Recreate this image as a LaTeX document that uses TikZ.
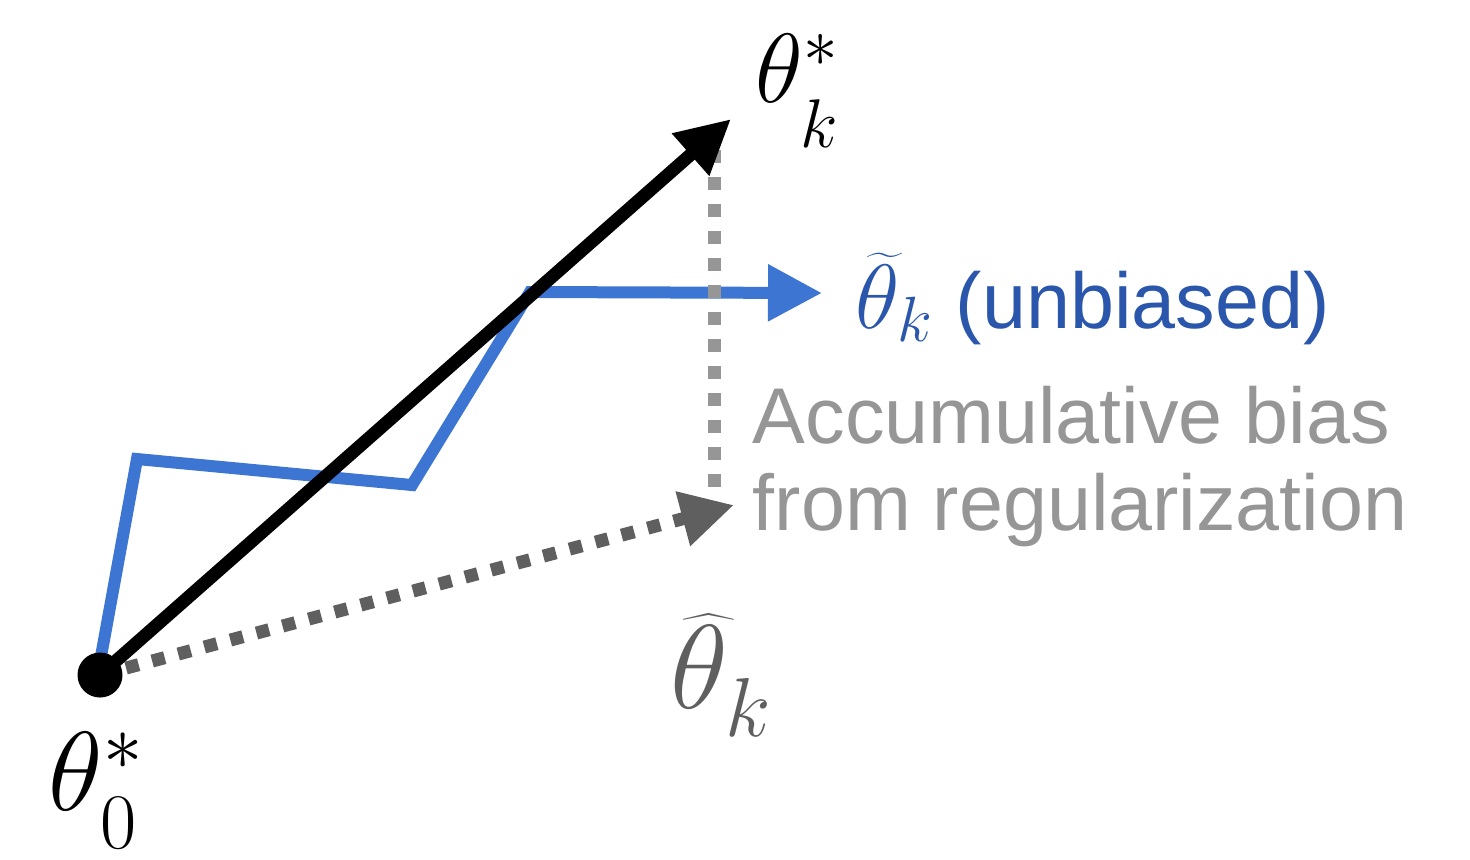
\RequirePackage{fix-cm}
\documentclass[tikz,border=0pt]{standalone}
\usepackage{fontspec}
\setsansfont{Liberation Sans}
\usetikzlibrary{arrows.meta, positioning, calc}

\definecolor{stepblue}{RGB}{61,117,211}
\definecolor{labelblue}{RGB}{42,86,172}
\definecolor{biasgray}{RGB}{150,150,150}
\definecolor{regdark}{RGB}{95,95,95}
\newcommand{\dropsub}[2]{\raisebox{-#1}{$\scriptstyle #2$}}

\begin{document}
\begin{tikzpicture}[
    >=Triangle,
    sgdpath/.style={draw=stepblue, line width=1.2mm, line join=miter},
    truepath/.style={draw=black, line width=1.3mm},
    dotline/.style={line width=1.3mm, dash pattern=on 1.3mm off 1.4mm},
    dot/.style={circle, fill=black, minimum size=4.5mm, inner sep=0pt},
    mathlabel/.style={inner sep=0pt, anchor=base west},
    textlabel/.style={inner sep=0pt, anchor=base west, align=left, font=\sffamily\fontsize{22.5}{24.7}\selectfont}
]

    \useasboundingbox (0,0) rectangle (14.7,-8.59);

    % Points
    \coordinate (origin) at (1.00,-6.75);
    \coordinate (bstart) at (1.00,-6.62);
    \coordinate (b1) at (1.37,-4.59);
    \coordinate (b2) at (4.12,-4.85);
    \coordinate (b3) at (5.30,-2.92);
    \coordinate (btip) at (8.22,-2.93);
    \coordinate (ktip) at (7.31,-1.19);
    \coordinate (htip) at (7.34,-5.05);
    \coordinate (vtop) at (7.14,-1.50);
    \coordinate (vbot) at (7.14,-4.90);

    % --- unbiased path ---
    \draw[sgdpath, -{Triangle[length=5.4mm, width=5.4mm]}] (bstart) -- (b1) -- (b2) -- (b3) -- (btip);

    % --- bias gap ---
    \draw[dotline, draw=biasgray] (vtop) -- (vbot);

    % --- regularized path ---
    \draw[dotline, draw=regdark, -{Triangle[length=5.3mm, width=5.3mm]}] (origin) -- (htip);

    % --- true path ---
    \draw[truepath, -{Triangle[length=5.4mm, width=5.3mm]}] (origin) -- (ktip);
    \node[dot] (start) at (origin) {};

    % Labels
    \node[mathlabel, font=\fontsize{28}{28}\selectfont] (thetak) at (7.55,-1.02) {$\theta^{*}_{\dropsub{6pt}{k}}$};
    \node[mathlabel, text=labelblue] (thetat) at (8.55,-3.28)
        {{\fontsize{26}{26}\selectfont$\widetilde{\theta}_k$}\hspace{0.22cm}{\sffamily\fontsize{22.5}{24.7}\selectfont(unbiased)}};
    \node[textlabel, text=biasgray] (bias) at (7.52,-5.30) {Accumulative bias\\from regularization};
    \node[mathlabel, text=regdark, font=\fontsize{34}{34}\selectfont] (thetah) at (6.70,-7.08) {$\widehat{\theta}_{\dropsub{3pt}{k}}$};
    \node[mathlabel, font=\fontsize{32}{32}\selectfont] (theta0) at (0.48,-8.10) {$\theta^{*}_{\dropsub{3pt}{0}}$};

\end{tikzpicture}
\end{document}
